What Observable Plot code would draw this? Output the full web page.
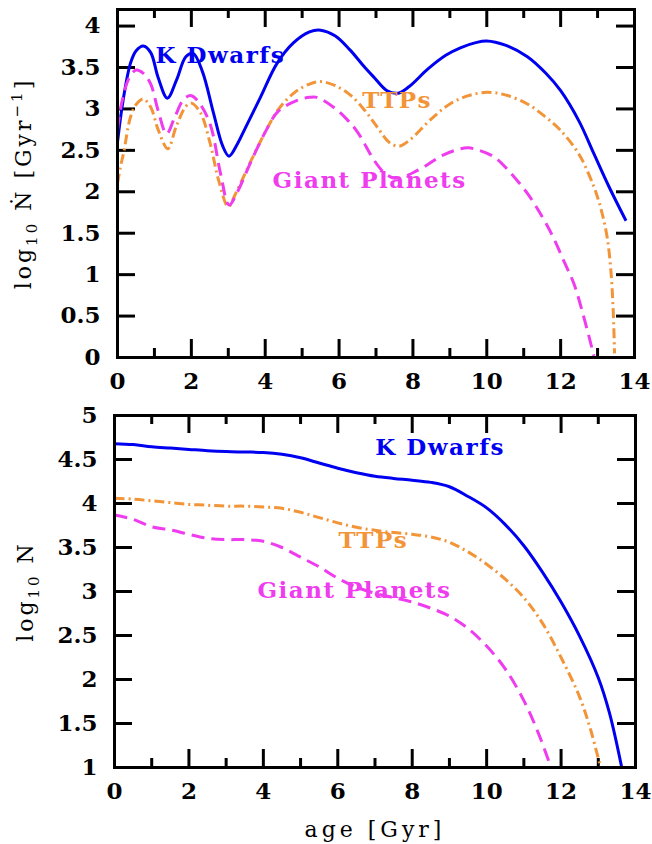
<!DOCTYPE html>
<html>
<head>
<meta charset="utf-8">
<script src="https://cdn.jsdelivr.net/npm/d3@7"></script>
<script src="https://cdn.jsdelivr.net/npm/@observablehq/plot@0.6"></script>
<style>
  html, body { margin: 0; padding: 0; background: #fff; }
  #chart svg { display: block; }
</style>
</head>
<body>
<div id="chart"></div>
<script>
// ---------- data ----------
// Top panel: log10 dN/dt [Gyr^-1]
const kRateX = [0,0.15,0.35,0.5,0.7,0.9,1.1,1.35,1.6,1.85,2.05,2.3,2.6,2.85,3.02,3.25,3.45,3.87,4.32,4.77,5.2,5.5,5.9,6.3,6.7,6.95,7.3,7.6,7.9,8.4,8.9,9.3,9.7,10.0,10.5,11.1,11.6,12.0,12.5,12.9,13.3,13.77];
const kRateY = [2.6,3.1,3.55,3.7,3.76,3.68,3.38,3.13,3.35,3.63,3.67,3.45,2.95,2.55,2.43,2.58,2.76,3.14,3.55,3.8,3.93,3.95,3.88,3.71,3.5,3.38,3.22,3.19,3.27,3.48,3.65,3.74,3.8,3.82,3.77,3.63,3.43,3.22,2.85,2.46,2.07,1.65];

const tRateX = [0,0.08,0.17,0.35,0.5,0.7,0.9,1.1,1.36,1.6,1.85,2.0,2.25,2.5,2.75,3.0,3.2,3.6,4.0,4.35,4.8,5.2,5.5,5.9,6.3,6.7,7.05,7.35,7.62,7.9,8.5,9.0,9.5,10.0,10.5,11.1,11.6,12.0,12.5,12.9,13.1,13.26,13.36,13.42,13.46];
const tRateY = [2.1,2.3,2.48,2.9,3.05,3.12,3.02,2.75,2.52,2.8,3.03,3.07,2.95,2.6,2.12,1.82,1.98,2.36,2.72,2.99,3.2,3.3,3.33,3.28,3.17,2.98,2.77,2.6,2.55,2.62,2.88,3.06,3.16,3.2,3.17,3.06,2.9,2.74,2.45,2.06,1.78,1.45,1.05,0.6,0.05];

const gRateX = [0,0.08,0.17,0.3,0.5,0.7,0.9,1.1,1.33,1.55,1.8,2.0,2.25,2.52,2.8,3.02,3.25,3.6,4.0,4.35,4.85,5.2,5.4,5.85,6.2,6.5,6.95,7.2,7.45,7.7,8.0,8.3,8.8,9.3,9.5,9.8,10.2,10.6,11.1,11.5,11.8,12.1,12.36,12.65,12.9];
const gRateY = [2.75,3.0,3.18,3.36,3.47,3.43,3.3,2.98,2.7,2.9,3.12,3.16,3.05,2.8,2.2,1.84,2.0,2.35,2.72,2.97,3.1,3.14,3.14,3.02,2.88,2.72,2.38,2.24,2.17,2.17,2.23,2.3,2.44,2.52,2.53,2.5,2.42,2.25,1.98,1.7,1.45,1.15,0.89,0.45,0.02];

// Bottom panel: log10 N
const kNX = [0,0.5,1,1.5,2,2.5,3,3.5,4,4.5,5,5.5,6,6.5,7,7.5,8,8.5,9,9.5,10,10.5,11,11.5,12,12.5,13,13.3,13.63];
const kNY = [4.68,4.67,4.645,4.63,4.615,4.6,4.59,4.585,4.58,4.56,4.52,4.46,4.4,4.35,4.31,4.285,4.265,4.24,4.19,4.08,3.95,3.76,3.52,3.22,2.88,2.49,2.02,1.62,1.0];

const tNX = [0,0.5,1,1.5,2,2.5,3,3.5,4,4.5,5,5.5,6,6.5,7,7.5,8,8.5,9,9.5,10,10.5,11,11.5,12,12.5,12.8,13.06];
const tNY = [4.06,4.05,4.03,4.01,3.99,3.98,3.97,3.97,3.96,3.945,3.9,3.84,3.78,3.73,3.695,3.67,3.65,3.62,3.56,3.45,3.31,3.14,2.93,2.64,2.25,1.8,1.42,1.0];

const gNX = [0,0.5,1,1.5,2,2.5,3,3.5,4,4.5,5,5.5,6,6.5,7,7.5,8,8.5,9,9.5,10,10.5,11,11.4,11.73];
const gNY = [3.87,3.82,3.735,3.7,3.65,3.605,3.59,3.59,3.57,3.5,3.39,3.28,3.15,3.05,2.98,2.93,2.88,2.81,2.72,2.58,2.38,2.12,1.76,1.38,1.0];

// Labels
const seriesNames = ["K Dwarfs", "TTPs", "Giant Planets"];
const seriesColors = ["#0000f0", "#f29438", "#ee3cee"];
const topLabelX = [1.03, 6.63, 4.2];
const topLabelY = [3.55, 3.01, 2.05];
const botLabelX = [7.01, 6.02, 3.84];
const botLabelY = [4.55, 3.5, 2.93];

// Ticks
const xMajor = [0,2,4,6,8,10,12,14];
const xMinor = [1,3,5,7,9,11,13];
const yTopTicks = [0,0.5,1,1.5,2,2.5,3,3.5,4];
const yBotTicks = [1,1.5,2,2.5,3,3.5,4,4.5,5];

// axis titles as parts: [text, kind] with kind "", "sub" or "sup"
const topYLabel = [["log", ""], ["10", "sub"], [" \u1E44 [Gyr", ""], ["\u22121", "sup"], ["]", ""]];
const botYLabel = [["log", ""], ["10", "sub"], [" N", ""]];
const xLabel = "age [Gyr]";

// ---------- helpers ----------
const zip = (xs, ys) => xs.map((x, i) => ({x, y: ys[i]}));
const FONT = "DejaVu Serif";
const majorLen = 18, minorLen = 9, frameW = 3;

function panel({height, mt, mb, ml, mr, yDomain, yTicks, series, curve, labelX, labelY, yLabel, yLabelDx, xLabelText}) {
  const ph = height - mt - mb;
  const pw = 652 - ml - mr;
  const marks = [
    Plot.ruleX(xMajor, {x: d => d, insetTop: ph - majorLen, strokeWidth: frameW}),
    Plot.ruleX(xMajor, {x: d => d, insetBottom: ph - majorLen, strokeWidth: frameW}),
    Plot.ruleX(xMinor, {x: d => d, insetTop: ph - minorLen, strokeWidth: frameW}),
    Plot.ruleX(xMinor, {x: d => d, insetBottom: ph - minorLen, strokeWidth: frameW}),
    Plot.ruleY(yTicks, {y: d => d, insetRight: pw - majorLen, strokeWidth: frameW}),
    Plot.ruleY(yTicks, {y: d => d, insetLeft: pw - majorLen, strokeWidth: frameW}),
    Plot.axisX({ticks: xMajor, tickSize: 0, tickPadding: 15, label: null, tickFormat: d => String(d),
      fontSize: 23, fontWeight: "bold", fill: "#000"}),
    Plot.axisY({ticks: yTicks, tickSize: 0, tickPadding: 17, label: null, tickFormat: d => String(d),
      fontSize: 23, fontWeight: "bold", fill: "#000"}),
  ];
  const dashes = [null, "10,4,2,4", "13,7"];
  series.forEach((s, i) => {
    marks.push(Plot.line(s, {x: "x", y: "y", stroke: seriesColors[i], strokeWidth: 3,
      curve, strokeDasharray: dashes[i] || undefined, strokeLinecap: "butt"}));
  });
  marks.push(Plot.frame({strokeWidth: frameW, stroke: "#000"}));
  marks.push(Plot.text(seriesNames, {x: (d, i) => labelX[i], y: (d, i) => labelY[i], text: d => d,
    fill: (d, i) => seriesColors[i], textAnchor: "start", lineAnchor: "bottom",
    fontSize: 23, fontWeight: "bold", ariaDescription: "annot"}));
  marks.push(Plot.text(["ylabel"], {frameAnchor: "left", text: d => d, rotate: -90, dx: yLabelDx,
    textAnchor: "middle", lineAnchor: "bottom", fontSize: 22, fontWeight: "normal", fill: "#000", ariaDescription: "ylab"}));
  if (xLabelText) {
    marks.push(Plot.text([xLabelText], {frameAnchor: "bottom", text: d => d, dy: 69,
      textAnchor: "middle", lineAnchor: "bottom", fontSize: 22, fontWeight: "normal", fill: "#000", ariaDescription: "xlab"}));
  }
  const svg = Plot.plot({
    width: 652, height,
    marginTop: mt, marginBottom: mb, marginLeft: ml, marginRight: mr,
    x: {domain: [0, 14]},
    y: {domain: yDomain},
    style: {fontFamily: FONT, background: "#fff", color: "#000", overflow: "visible"},
    marks
  });
  const s = d3.select(svg);
  s.selectAll('g[aria-description="annot"] text').style("letter-spacing", "1.5px");
  s.selectAll('g[aria-description="xlab"] text').style("letter-spacing", "4px");
  const t = s.select('g[aria-description="ylab"] text').style("letter-spacing", "3px");
  t.text(null);
  let shift = 0;
  yLabel.forEach(([str, kind]) => {
    const target = kind === "sub" ? 6 : kind === "sup" ? -9 : 0;
    const ts = t.append("tspan").text(str).attr("dy", target - shift);
    if (kind) ts.attr("font-size", 15);
    shift = target;
  });
  return svg;
}

const topSvg = panel({
  height: 390, mt: 9, mb: 33, ml: 117, mr: 18,
  yDomain: [0, 4.2], yTicks: yTopTicks, curve: "catmull-rom",
  series: [zip(kRateX, kRateY), zip(tRateX, tRateY), zip(gRateX, gRateY)],
  labelX: topLabelX, labelY: topLabelY,
  yLabel: topYLabel, yLabelDx: -87
});
const botSvg = panel({
  height: 454, mt: 25, mb: 77, ml: 114, mr: 17,
  yDomain: [1, 5], yTicks: yBotTicks, curve: "catmull-rom",
  series: [zip(kNX, kNY), zip(tNX, tNY), zip(gNX, gNY)],
  labelX: botLabelX, labelY: botLabelY,
  yLabel: botYLabel, yLabelDx: -82, xLabelText: xLabel
});
document.getElementById("chart").append(topSvg, botSvg);
</script>
</body>
</html>
